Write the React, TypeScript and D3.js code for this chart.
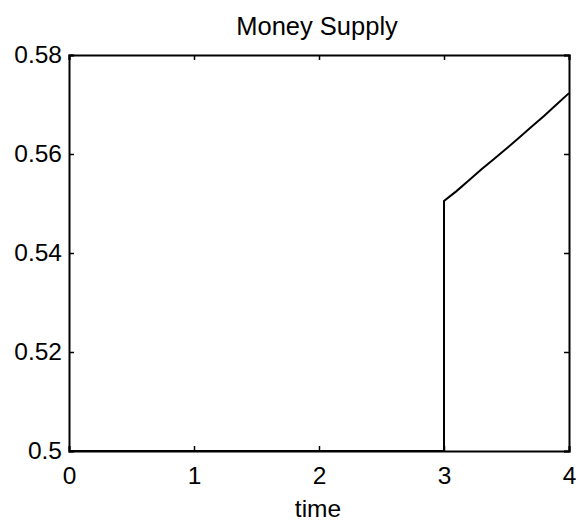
import { useEffect, useRef } from "react";
import * as d3 from "d3";

const times = [0, 3, 3, 3.1, 3.2, 3.3, 3.4, 3.5, 3.6, 3.7, 3.8, 3.9, 4];
const money = [0.5, 0.5, 0.5505, 0.5525, 0.5547, 0.5569, 0.559, 0.5611, 0.5633, 0.5655, 0.5677, 0.57, 0.5723];
const xTicks = [0, 1, 2, 3, 4];
const yTicks = [0.5, 0.52, 0.54, 0.56, 0.58];

export default function App() {
  const svgRef = useRef<SVGSVGElement>(null);

  useEffect(() => {
    const width = 580;
    const height = 521;
    const margin = { top: 55, right: 11, bottom: 70, left: 69 };
    const w = width - margin.left - margin.right;
    const h = height - margin.top - margin.bottom;
    const font = "'Liberation Sans', Arial, sans-serif";

    d3.select(svgRef.current).selectAll("*").remove();

    const root = d3
      .select(svgRef.current)
      .attr("width", width)
      .attr("height", height);

    root.append("rect").attr("width", width).attr("height", height).attr("fill", "#fff");

    const svg = root.append("g").attr("transform", `translate(${margin.left},${margin.top})`);

    const x = d3.scaleLinear().domain([0, 4]).range([0, w]);
    const y = d3.scaleLinear().domain([0.5, 0.58]).range([h, 0]);

    const data = times.map((t, i) => ({ t, v: money[i] }));
    const line = d3
      .line<{ t: number; v: number }>()
      .x((d) => x(d.t))
      .y((d) => y(d.v));

    svg
      .append("path")
      .datum(data)
      .attr("fill", "none")
      .attr("stroke", "#000")
      .attr("stroke-width", 2)
      .attr("d", line);

    // inward ticks on all four sides
    const tl = 5;
    const fmt = (d: number) => (d === 0.5 ? "0.5" : d3.format(".2f")(d));
    const bottom = svg
      .append("g")
      .attr("transform", `translate(0,${h})`)
      .call(d3.axisBottom(x).tickValues(xTicks).tickSize(-tl).tickPadding(16).tickFormat(d3.format("d")));
    const top = svg.append("g").call(d3.axisTop(x).tickValues(xTicks).tickSize(-tl).tickFormat(() => ""));
    const left = svg
      .append("g")
      .call(d3.axisLeft(y).tickValues(yTicks).tickSize(-tl).tickPadding(7).tickFormat((d) => fmt(+d)));
    const right = svg
      .append("g")
      .attr("transform", `translate(${w},0)`)
      .call(d3.axisRight(y).tickValues(yTicks).tickSize(-tl).tickFormat(() => ""));

    [bottom, top, left, right].forEach((g) => {
      g.select(".domain").attr("stroke", "#000").attr("stroke-width", 2);
      g.selectAll(".tick line").attr("stroke", "#000").attr("stroke-width", 1.5);
      g.selectAll("text").attr("font-family", font).attr("font-size", 24.5).attr("fill", "#000");
    });

    root
      .append("text")
      .attr("x", 317)
      .attr("y", 35)
      .attr("text-anchor", "middle")
      .attr("font-family", font)
      .attr("font-size", 25.5)
      .text("Money Supply");

    root
      .append("text")
      .attr("x", 318)
      .attr("y", 517)
      .attr("text-anchor", "middle")
      .attr("font-family", font)
      .attr("font-size", 24.5)
      .text("time");
  }, []);

  return <svg ref={svgRef} style={{ position: "absolute", left: 0, top: 0 }}></svg>;
}
